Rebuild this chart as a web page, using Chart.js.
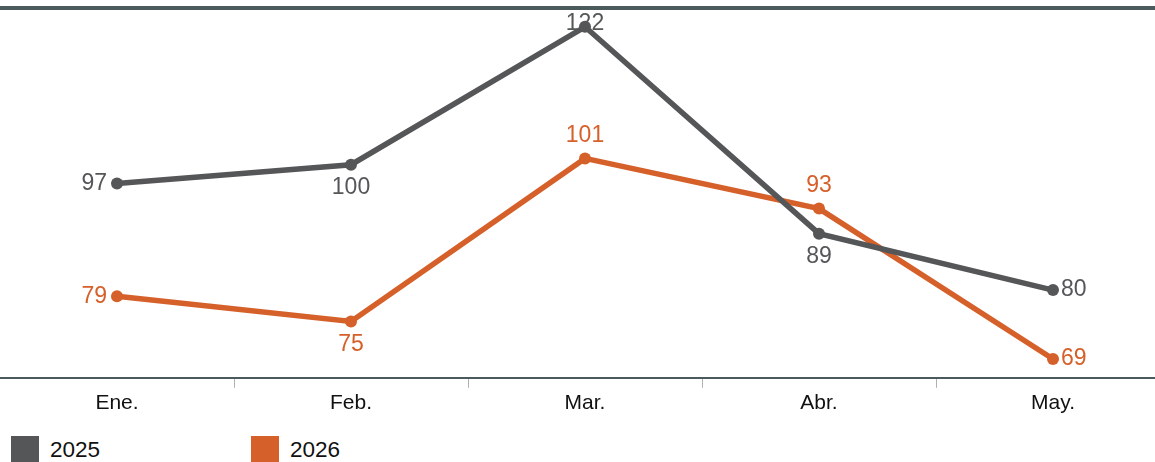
<!DOCTYPE html>
<html>
<head>
<meta charset="utf-8">
<script src="https://cdn.jsdelivr.net/npm/chart.js@4/dist/chart.umd.min.js"></script>
<style>
  html, body { margin: 0; padding: 0; background: #fff; overflow: hidden; }
  #wrap { position: relative; width: 1170px; height: 462px; }
  #box { position: absolute; left: 0; top: 0; width: 1170px; height: 419px; }
  #legend { position: absolute; left: 11px; top: 436px; font-family: Arial, "Liberation Sans", sans-serif; font-size: 22.5px; color: #111; }
  #legend .item { position: absolute; top: 0; white-space: nowrap; }
  #legend .sq { position: absolute; left: 0; top: 0; width: 28px; height: 26px; }
  #legend .txt { position: absolute; left: 39px; top: 1px; line-height: 26px; }
</style>
</head>
<body>
<div id="wrap">
  <div id="box"><canvas id="chart"></canvas></div>
  <div id="legend"></div>
</div>
<script>
'use strict';

var months = ['Ene.', 'Feb.', 'Mar.', 'Abr.', 'May.'];
var seriesNames = ['2025', '2026'];
var values2025 = [97, 100, 122, 89, 80];
var values2026 = [79, 75, 101, 93, 69];

var colors = ['#555658', '#d5602a'];
// where each value label sits relative to its point
var labelPos2025 = ['left', 'below', 'above', 'below', 'right'];
var labelPos2026 = ['left', 'below', 'above', 'above', 'right'];

var FONT = 'Arial, "Liberation Sans", sans-serif';

var valueLabels = {
    id: 'valueLabels',
    afterDatasetsDraw: function (chart) {
        var ctx = chart.ctx;
        ctx.save();
        ctx.font = '23px ' + FONT;
        chart.data.datasets.forEach(function (ds, di) {
            var meta = chart.getDatasetMeta(di);
            meta.data.forEach(function (pt, i) {
                var pos = ds.labelPos[i];
                var x = pt.x, y = pt.y;
                ctx.fillStyle = ds.borderColor;
                ctx.textBaseline = 'middle';
                if (pos === 'left') {
                    ctx.textAlign = 'right';
                    x -= 10;
                } else if (pos === 'right') {
                    ctx.textAlign = 'left';
                    x += 8;
                } else if (pos === 'above') {
                    ctx.textAlign = 'center';
                    y -= 23;
                } else {
                    ctx.textAlign = 'center';
                    y += 23;
                }
                if (y < 24) y = 24;
                ctx.fillText(String(ds.data[i]), x, y);
            });
        });
        ctx.restore();
    }
};

var topRule = {
    id: 'topRule',
    afterDraw: function (chart) {
        var ctx = chart.ctx;
        ctx.save();
        ctx.fillStyle = '#4b5b5d';
        ctx.fillRect(0, 6, chart.width, 4);
        ctx.restore();
    }
};

var datasets = [
    { label: seriesNames[0], data: values2025, labelPos: labelPos2025 },
    { label: seriesNames[1], data: values2026, labelPos: labelPos2026 }
].map(function (d, i) {
    d.borderColor = colors[i];
    d.backgroundColor = colors[i];
    d.pointBackgroundColor = colors[i];
    d.pointBorderColor = colors[i];
    d.borderWidth = 5.5;
    d.pointRadius = 6;
    d.pointBorderWidth = 0;
    d.tension = 0;
    d.clip = false;
    return d;
});

var ctx = document.getElementById('chart');
var chart = new Chart(ctx, {
    type: 'line',
    data: { labels: months, datasets: datasets },
    options: {
        responsive: true,
        maintainAspectRatio: false,
        animation: false,
        layout: { autoPadding: false, padding: { top: 8, left: 0, right: 0, bottom: 0 } },
        plugins: {
            legend: { display: false },
            tooltip: { enabled: false }
        },
        scales: {
            x: {
                offset: true,
                grid: {
                    offset: true,
                    drawOnChartArea: false,
                    drawTicks: true,
                    tickLength: 10,
                    color: function (c) {
                        return c.index === 0 ? 'rgba(0,0,0,0)' : '#b0b0b0';
                    },
                    lineWidth: 1
                },
                border: { display: true, color: '#4b5b5d', width: 2 },
                ticks: {
                    font: { family: FONT, size: 21 },
                    color: '#111',
                    padding: 3,
                    maxRotation: 0
                }
            },
            y: {
                display: false,
                min: 66,
                max: 125
            }
        }
    },
    plugins: [valueLabels, topRule]
});

// simple legend built from the datasets
var legend = document.getElementById('legend');
datasets.forEach(function (d, i) {
    var item = document.createElement('div');
    item.className = 'item';
    item.style.left = (i * 240) + 'px';
    item.innerHTML = '<span class="sq" style="background:' + d.borderColor + '"></span><span class="txt">' + d.label + '</span>';
    legend.appendChild(item);
});
</script>
</body>
</html>
